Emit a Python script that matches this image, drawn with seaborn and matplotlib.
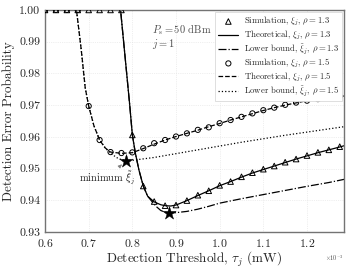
import numpy as np
import pandas as pd
import seaborn as sns
import matplotlib.pyplot as plt

# detection threshold in units of 1e-3 mW
tau_sim = [0.600, 0.625, 0.650, 0.675, 0.700, 0.725, 0.750, 0.775, 0.800, 0.825,
           0.850, 0.875, 0.900, 0.925, 0.950, 0.975, 1.000, 1.025, 1.050, 1.075,
           1.100, 1.125, 1.150, 1.175, 1.200, 1.225, 1.250, 1.275]

# rho = 1.3
sim_13 = [1.0, 1.0, 1.0, 1.0, 1.0, 1.0, 1.0, 1.0, 0.9606, 0.9445,
          0.9396, 0.9383, 0.9385, 0.9399, 0.9416, 0.9430, 0.9447, 0.9459, 0.9474, 0.9487,
          0.9498, 0.9508, 0.9520, 0.9530, 0.9541, 0.9551, 0.9559, 0.9569]
tau_th_13 = [0.600, 0.773, 0.780, 0.787, 0.794, 0.800, 0.807, 0.815, 0.825, 0.835,
             0.850, 0.865, 0.875, 0.888, 0.900, 0.925, 0.950, 0.975, 1.000, 1.025,
             1.050, 1.075, 1.100, 1.125, 1.150, 1.175, 1.200, 1.225, 1.250, 1.275, 1.285]
th_13 = [1.0, 1.0, 0.990, 0.980, 0.970, 0.9606, 0.9548, 0.9496, 0.9445, 0.9413,
         0.9395, 0.9386, 0.9383, 0.9382, 0.9385, 0.9399, 0.9415, 0.9430, 0.9446, 0.9459,
         0.9473, 0.9486, 0.9497, 0.9508, 0.9519, 0.9530, 0.9540, 0.9550, 0.9559, 0.9568, 0.9572]
tau_lb_13 = [0.600, 0.773, 0.780, 0.787, 0.794, 0.800, 0.807, 0.815, 0.825, 0.835,
             0.845, 0.855, 0.865, 0.875, 0.885, 0.900, 0.925, 0.950, 0.975, 1.000,
             1.050, 1.100, 1.150, 1.200, 1.250, 1.285]
lb_13 = [1.0, 1.0, 0.990, 0.980, 0.970, 0.9606, 0.9548, 0.9496, 0.9445, 0.9413,
         0.9396, 0.9380, 0.9368, 0.9362, 0.9360, 0.9361, 0.9365, 0.9372, 0.9381, 0.9391,
         0.9405, 0.9418, 0.9431, 0.9444, 0.9456, 0.9466]

# rho = 1.5
sim_15 = [1.0, 1.0, 1.0, 1.0, 0.9697, 0.9590, 0.9552, 0.9549, 0.9551, 0.9564,
          0.9580, 0.9590, 0.9601, 0.9611, 0.9622, 0.9630, 0.9643, 0.9653, 0.9663, 0.9674,
          0.9684, 0.9692, 0.9701, 0.9708, 0.9714, 0.9719, 0.9723, 0.9727]
tau_th_15 = [0.600, 0.672, 0.683, 0.692, 0.700, 0.712, 0.725, 0.737, 0.750, 0.775,
             0.800, 0.825, 0.850, 0.875, 0.900, 0.925, 0.950, 0.975, 1.000, 1.025,
             1.050, 1.075, 1.100, 1.125, 1.150, 1.175, 1.200, 1.225, 1.250, 1.275, 1.285]
th_15 = [1.0, 1.0, 0.9874, 0.9755, 0.9697, 0.9635, 0.9590, 0.9566, 0.9552, 0.9548,
         0.9550, 0.9563, 0.9577, 0.9590, 0.9601, 0.9611, 0.9621, 0.9632, 0.9642, 0.9653,
         0.9663, 0.9673, 0.9683, 0.9692, 0.9700, 0.9707, 0.9714, 0.9719, 0.9723, 0.9727, 0.9729]
tau_lb_15 = [0.600, 0.672, 0.683, 0.692, 0.700, 0.712, 0.725, 0.740, 0.750, 0.765,
             0.775, 0.785, 0.800, 0.850, 0.900, 0.950, 1.000, 1.050, 1.100, 1.150,
             1.200, 1.250, 1.285]
lb_15 = [1.0, 1.0, 0.9874, 0.9755, 0.9697, 0.9635, 0.9590, 0.9562, 0.9548, 0.9534,
         0.9528, 0.9525, 0.9526, 0.9535, 0.9547, 0.9559, 0.9571, 0.9583, 0.9594, 0.9605,
         0.9615, 0.9625, 0.9632]

# minima of the lower bounds
star_tau = [0.885, 0.785]
star_val = [0.9360, 0.9525]

sns.set_theme(style="whitegrid")
plt.rcParams['font.family'] = 'serif'
plt.rcParams['font.serif'] = ['cmr10', 'DejaVu Serif']
plt.rcParams['mathtext.fontset'] = 'cm'
plt.rcParams['axes.formatter.use_mathtext'] = True
plt.rcParams['axes.unicode_minus'] = True

fig, ax = plt.subplots(figsize=(3.49, 2.69), dpi=100)
fig.subplots_adjust(left=0.129, right=0.986, top=0.963, bottom=0.1375)

s = 1e-3
lw = 0.9
sns.scatterplot(x=np.array(tau_sim) * s, y=sim_13, marker='^', s=16, facecolors='none',
                edgecolor='black', linewidth=0.7, ax=ax, zorder=4,
                label=r'Simulation, $\xi_j$, $\rho = 1.3$')
sns.lineplot(x=np.array(tau_th_13) * s, y=th_13, color='black', lw=lw, ax=ax,
             label=r'Theoretical, $\xi_j$, $\rho = 1.3$')
sns.lineplot(x=np.array(tau_lb_13) * s, y=lb_13, color='black', lw=lw, ls='-.', ax=ax,
             label=r'Lower bound, $\tilde{\xi}_j$, $\rho = 1.3$')
sns.scatterplot(x=np.array(tau_sim) * s, y=sim_15, marker='o', s=14, facecolors='none',
                edgecolor='black', linewidth=0.7, ax=ax, zorder=4,
                label=r'Simulation, $\xi_j$, $\rho = 1.5$')
sns.lineplot(x=np.array(tau_th_15) * s, y=th_15, color='black', lw=lw, ls='--', ax=ax,
             label=r'Theoretical, $\xi_j$, $\rho = 1.5$')
sns.lineplot(x=np.array(tau_lb_15) * s, y=lb_15, color='black', lw=lw, ls=':', ax=ax,
             label=r'Lower bound, $\tilde{\xi}_j$, $\rho = 1.5$')
sns.scatterplot(x=np.array(star_tau) * s, y=star_val, marker='*', s=100, color='black',
                edgecolor='black', linewidth=0.3, ax=ax, zorder=5, legend=False)

ax.annotate(r'minimum $\tilde{\xi}_j$', xy=(star_tau[1] * s, star_val[1]),
            xytext=(0.743 * s, 0.9470), ha='center', va='center', fontsize=7.5,
            arrowprops=dict(arrowstyle='-|>', color='gray', lw=0.6,
                            mutation_scale=5, shrinkA=1, shrinkB=4))
ax.text(0.845 * s, 0.9937, r'$P_{\rm s} = 50$ dBm', fontsize=7.5, color='0.3', va='center')
ax.text(0.845 * s, 0.9893, r'$j = 1$', fontsize=7.5, color='0.3', va='center')

ax.set_xlim(0.6e-3, 1.285e-3)
ax.set_ylim(0.93, 1.0)
ax.set_xticks(np.arange(0.6, 1.21, 0.1) * s)
ax.set_yticks(np.arange(0.93, 1.001, 0.01))
ax.yaxis.set_major_formatter(plt.FormatStrFormatter('%.2f'))
ax.ticklabel_format(axis='x', style='sci', scilimits=(-3, -3), useMathText=True)
ax.xaxis.get_offset_text().set_fontsize(4.5)
ax.xaxis.get_offset_text().set_color('0.3')

ax.set_xlabel(r'Detection Threshold, $\tau_j$ (mW)', fontsize=9.5, labelpad=1)
ax.set_ylabel('Detection Error Probability', fontsize=9.5, labelpad=3)
ax.tick_params(labelsize=8.5, length=2, width=0.6, color='0.4', pad=1.5)

ax.grid(True, color='0.88', lw=0.5, ls=':')
for sp in ax.spines.values():
    sp.set_color('0.45')
    sp.set_linewidth(1.0)

leg = ax.legend(loc='upper right', fontsize=6.3, frameon=True, handlelength=2.3,
                labelspacing=0.08, borderpad=0.35, handletextpad=0.6,
                borderaxespad=0.25, fancybox=False, edgecolor='0.85', framealpha=1)
leg.get_frame().set_linewidth(0.6)
leg.set_zorder(10)

plt.savefig('out.png', dpi=100)
